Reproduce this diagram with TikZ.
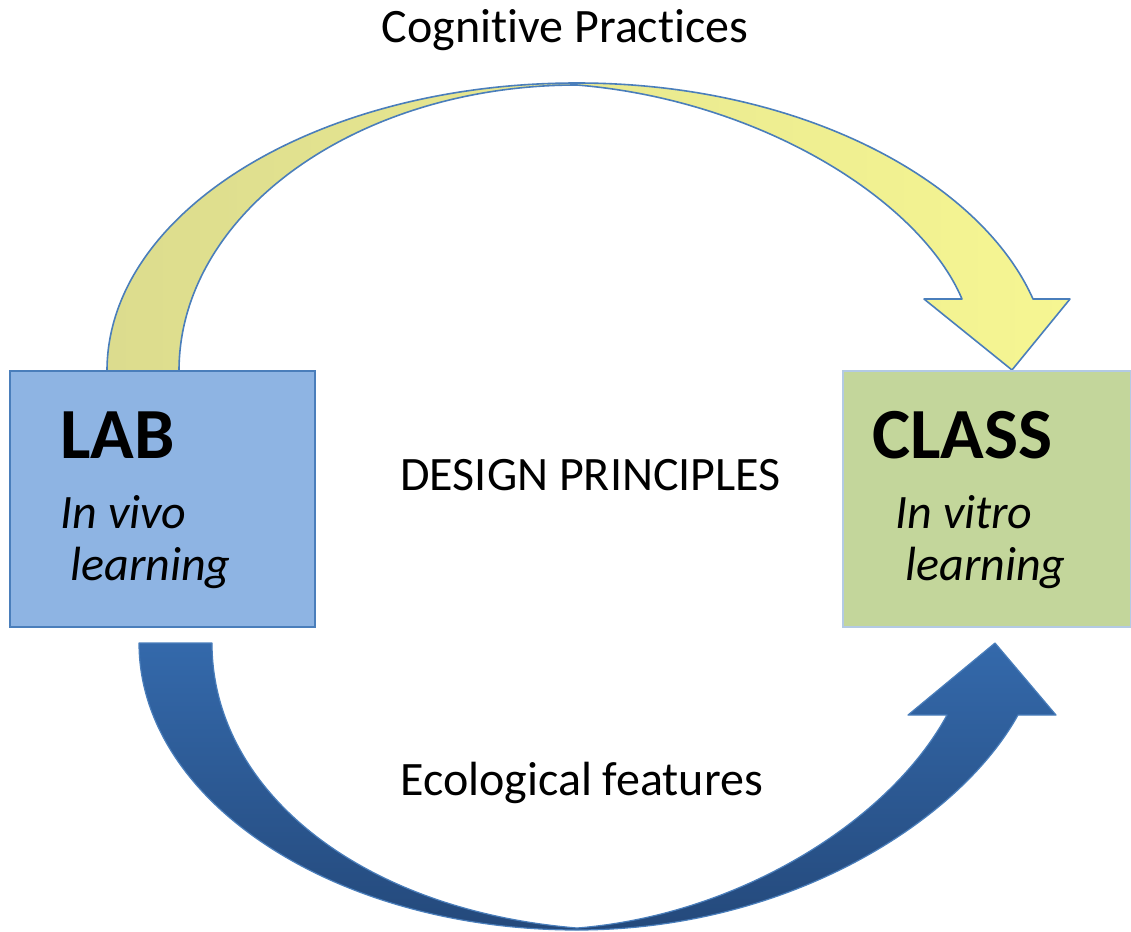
\documentclass[tikz,border=0pt]{standalone}
\usepackage{fontspec}
\setmainfont{Carlito}[Ligatures=NoCommon]
\usetikzlibrary{positioning}

\definecolor{labblue}{HTML}{8EB4E3}
\definecolor{labedge}{HTML}{4A7EBB}
\definecolor{classgreen}{HTML}{C3D69B}
\definecolor{classedge}{HTML}{B3CAE4}
\definecolor{arrowolive}{HTML}{DCDC8E}
\definecolor{arrowyellow}{HTML}{F6F692}
\definecolor{arrowtop}{HTML}{3469AB}
\definecolor{arrowbottom}{HTML}{24497B}

\tikzstyle{labbox} = [draw=labedge, line width=1pt, fill=labblue, minimum width=152.5pt, minimum height=128pt]
\tikzstyle{classbox} = [draw=classedge, line width=0.8pt, fill=classgreen, minimum width=144pt, minimum height=128pt]
\tikzstyle{title} = [anchor=base west, inner sep=0pt, font=\fontsize{36}{40}\selectfont\bfseries]
\tikzstyle{sub} = [anchor=base west, inner sep=0pt, font=\fontsize{24}{28}\selectfont\itshape]
\tikzstyle{label} = [anchor=base west, inner sep=0pt, font=\fontsize{24}{28}\selectfont]

\begin{document}
\begin{tikzpicture}[x=0.5pt, y=-0.5pt]
		\useasboundingbox (0,0) rectangle (1131,932);
		% gelber Bogen oben
		\draw[labedge, line width=0.8pt, line join=round, left color=arrowolive, right color=arrowyellow]
			(107,371) .. controls (107,212) and (317,83) .. (577,83)
			.. controls (800,83) and (980,180) .. (1033,299) -- (1070,299) -- (1012,370) -- (924,299) -- (962,299)
			.. controls (920,200) and (760,100) .. (577,85)
			.. controls (357,85) and (179,213) .. (179,371) -- cycle;
		% blauer Bogen unten
		\draw[labedge, line width=0.6pt, line join=round, top color=arrowtop, bottom color=arrowbottom]
			(139,643) .. controls (139,801) and (335,930) .. (577,930)
			.. controls (790,930) and (960,820) .. (1018,715) -- (1056,715) -- (995,643) -- (908,715) -- (947,715)
			.. controls (890,820) and (740,915) .. (577,928)
			.. controls (360,910) and (212,790) .. (212,643) -- cycle;
		\node[labbox] (lab) at (162.5,499) {};
		\node[classbox] (class) at (987,499) {};
		\node[title] (labtitle) at (60,458) {LAB};
		\node[sub] (labvivo) at (60,528) {In vivo};
		\node[sub] (lablearn) at (70,580) {learning};
		\node[title] (classtitle) at (872,458) {CLASS};
		\node[sub] (classvitro) at (895,528) {In vitro};
		\node[sub] (classlearn) at (905,580) {learning};
		\node[label] (design) at (400,490) {DESIGN PRINCIPLES};
		\node[label, anchor=base] (cogn) at (565,42) {Cognitive Practices};
		\node[label] (ecol) at (400,795) {Ecological features};
	\end{tikzpicture}
\end{document}
